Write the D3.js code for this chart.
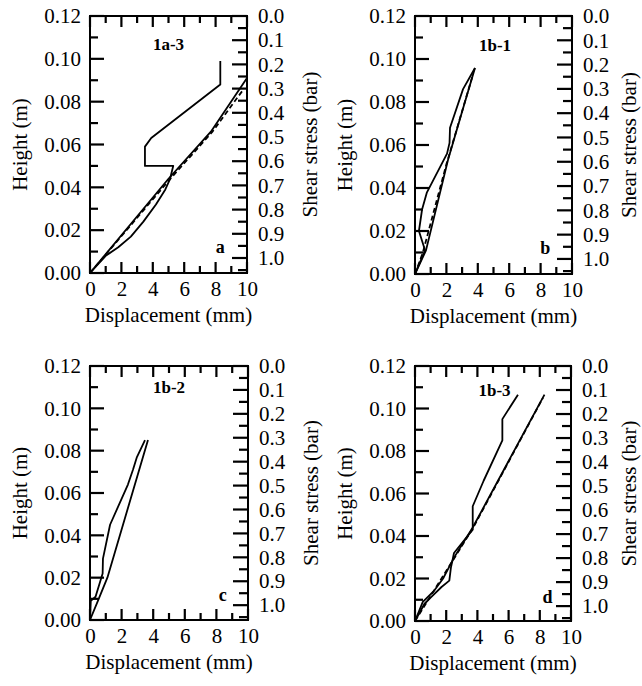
<!DOCTYPE html>
<html><head><meta charset="utf-8">
<script src="https://cdn.jsdelivr.net/npm/d3@7/dist/d3.min.js"></script>
<style>body{margin:0;background:#fff}svg{display:block}</style>
</head><body><svg id="c" width="642" height="686" font-family="Liberation Serif, DejaVu Serif, serif"></svg>
<script>
// ---- data (displacement mm, height m) ----
const xTicks = [0,2,4,6,8,10];
const yTicks = [0.00,0.02,0.04,0.06,0.08,0.10,0.12];
const sTicks = [0.0,0.1,0.2,0.3,0.4,0.5,0.6,0.7,0.8,0.9,1.0];
const panelNames = ["1a-3","1b-1","1b-2","1b-3"];
const panelLetters = ["a","b","c","d"];

const a_loop = [[0,0],[1.0,0.008],[1.8,0.012],[2.6,0.017],[3.4,0.024],[4.2,0.032],[4.8,0.039],[5.1,0.044],[5.3,0.050],[3.5,0.050],[3.5,0.059],[3.9,0.063],[8.3,0.088],[8.3,0.099]];
const a_line = [[0,0],[5.0,0.044],[7.7,0.066],[10.0,0.091]];
const a_dash = [[0,0],[5.0,0.043],[7.8,0.066],[9.7,0.085]];

const b_loop = [[0,0],[0.64,0.011],[0.25,0.020],[0.45,0.030],[0.76,0.038],[2.04,0.056],[2.2,0.061],[2.23,0.068],[3.06,0.086],[3.82,0.0958]];
const b_line = [[0,0],[0.7,0.011],[2.1,0.053],[2.9,0.073],[3.82,0.0958]];
const b_dash = [[0,0],[0.5,0.010],[2.0,0.051],[3.7,0.093]];

const c_loop = [[0,0],[0.05,0.009],[0.35,0.011],[0.8,0.022],[0.82,0.029],[1.27,0.045],[2.4,0.064],[2.72,0.071],[2.97,0.077],[3.48,0.085]];
const c_line = [[0,0],[0.5,0.009],[1.1,0.020],[3.67,0.085]];

const d_loop = [[0,0],[0.6,0.008],[1.0,0.011],[1.7,0.016],[2.2,0.019],[2.3,0.025],[2.5,0.032],[3.7,0.043],[3.7,0.054],[4.4,0.066],[5.6,0.085],[5.6,0.095],[6.6,0.1065]];
const d_line = [[0,0],[0.5,0.009],[1.2,0.014],[1.8,0.020],[2.3,0.027],[2.6,0.031],[3.7,0.044],[8.3,0.1065]];
const d_dash = [[0,0],[3.7,0.0435],[8.2,0.105]];

const panelSeries = [
  {solid:[a_loop,a_line], dashed:[a_dash]},
  {solid:[b_loop,b_line], dashed:[b_dash]},
  {solid:[c_loop,c_line], dashed:[]},
  {solid:[d_loop,d_line], dashed:[d_dash]}
];

// ---- layout ----
const boxes = [
  {x0:90, x1:247, y0:16, y1:273, nameDx:5.0, nameDy:34, letX:8.3, letDy:20},
  {x0:415, x1:572, y0:16, y1:274, nameDx:5.1, nameDy:35, letX:8.3, letDy:20},
  {x0:90, x1:248, y0:366, y1:620, nameDx:5.0, nameDy:27, letX:8.4, letDy:19},
  {x0:415, x1:571, y0:366, y1:621, nameDx:5.1, nameDy:30, letX:8.5, letDy:18}
];
const FS = 21;
const FONT = "Liberation Serif, DejaVu Serif, serif";
const svg = d3.select("#c");

function styleAxis(sel){
  sel.select(".domain").remove();
  sel.selectAll(".tick line").remove();
  sel.selectAll(".tick text").attr("font-size",FS).attr("fill","#000").attr("font-family",FONT);
}

boxes.forEach((b,i)=>{
  const x = d3.scaleLinear().domain([0,10]).range([b.x0,b.x1]);
  const y = d3.scaleLinear().domain([0,0.12]).range([b.y1,b.y0]);
  const s = d3.scaleLinear().domain([0,1.062]).range([b.y0,b.y1]);
  const g = svg.append("g");

  // frame
  g.append("rect").attr("x",b.x0).attr("y",b.y0).attr("width",b.x1-b.x0).attr("height",b.y1-b.y0)
    .attr("fill","none").attr("stroke","#000").attr("stroke-width",2);

  // tick marks (inward)
  const seg = d3.line();
  const tickG = g.append("g").attr("class","ticks");
  const addTick = (pts)=>tickG.append("path").attr("d",seg(pts)).attr("fill","none").attr("stroke","#000").attr("stroke-width",2.2);
  d3.range(0,11).forEach(v=>{
    const len = v%2===0?11:7;
    addTick([[x(v),b.y1],[x(v),b.y1-len]]);
    addTick([[x(v),b.y0],[x(v),b.y0+len]]);
  });
  d3.range(0,13).forEach(k=>{
    const len = k%2===0?14:8;
    addTick([[b.x0,y(k*0.01)],[b.x0+len,y(k*0.01)]]);
  });
  d3.range(0,22).forEach(k=>{
    const v=k*0.05; if(v>1.062) return;
    const len = k%2===0?15:9;
    addTick([[b.x1,s(v)],[b.x1-len,s(v)]]);
  });

  // tick labels via d3 axes
  g.append("g").attr("transform",`translate(0,${b.y1})`)
    .call(d3.axisBottom(x).tickValues(xTicks).tickSize(0).tickPadding(8).tickFormat(d3.format("d"))).call(styleAxis);
  g.append("g").attr("transform",`translate(${b.x0},0)`)
    .call(d3.axisLeft(y).tickValues(yTicks).tickSize(0).tickPadding(9).tickFormat(d3.format(".2f"))).call(styleAxis);
  g.append("g").attr("transform",`translate(${b.x1},0)`)
    .call(d3.axisRight(s).tickValues(sTicks).tickSize(0).tickPadding(11).tickFormat(d3.format(".1f"))).call(styleAxis);

  // axis titles
  const cx = (b.x0+b.x1)/2, cy=(b.y0+b.y1)/2;
  g.append("text").attr("x",cx).attr("y",b.y1+49).attr("text-anchor","middle").attr("font-size",FS).text("Displacement (mm)");
  g.append("text").attr("transform",`translate(${b.x0-63},${cy}) rotate(-90)`).attr("text-anchor","middle").attr("font-size",FS).text("Height (m)");
  const rx = Math.min(b.x1+70, 636);
  g.append("text").attr("transform",`translate(${rx},${cy}) rotate(-90)`).attr("text-anchor","middle").attr("font-size",FS).text("Shear stress (bar)");

  // panel labels
  g.append("text").attr("x",x(b.nameDx)).attr("y",b.y0+b.nameDy).attr("text-anchor","middle").attr("font-size",17).attr("font-weight","bold").text(panelNames[i]);
  g.append("text").attr("x",x(b.letX)).attr("y",b.y1-b.letDy).attr("text-anchor","middle").attr("font-size",18).attr("font-weight","bold").text(panelLetters[i]);

  // curves
  const line = d3.line().x(d=>x(d[0])).y(d=>y(d[1]));
  panelSeries[i].solid.forEach(ser=>{
    g.append("path").attr("d",line(ser)).attr("fill","none").attr("stroke","#000").attr("stroke-width",1.8).attr("stroke-linejoin","round");
  });
  panelSeries[i].dashed.forEach(ser=>{
    g.append("path").attr("d",line(ser)).attr("fill","none").attr("stroke","#000").attr("stroke-width",1.8).attr("stroke-dasharray","5,3");
  });
});
</script></body></html>
